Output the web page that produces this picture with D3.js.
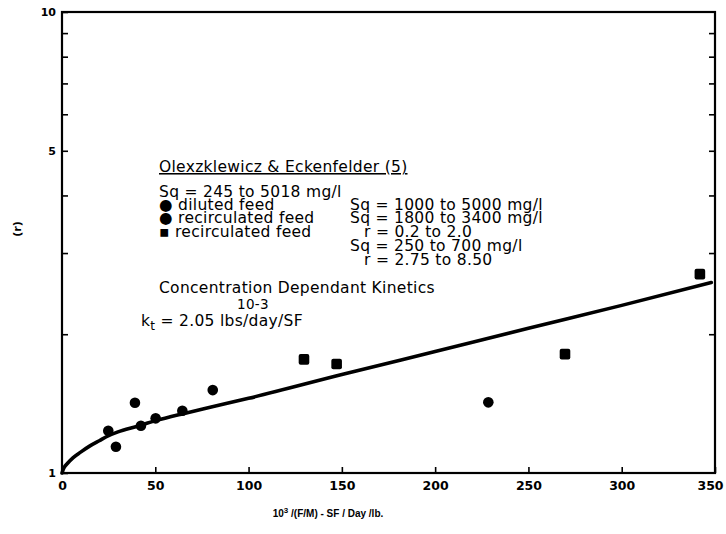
<!DOCTYPE html>
<html><head><meta charset="utf-8">
<script src="https://cdn.jsdelivr.net/npm/d3@7"></script>
<style>body{margin:0;background:#fff}</style>
</head><body>
<svg id="c" width="726" height="534"></svg>
<script>
// ---- data ----
const xTicks = [0, 50, 100, 150, 200, 250, 300, 350];
const xTickLabels = ["0", "50", "100", "150", "200", "250", "300", "350"];
const yTicks = [1, 2, 3, 4, 5, 6, 7, 8, 9, 10];
const yLabeled = [1, 5, 10];
const yTickLabels = ["1", "5", "10"];
const curveX = [0, 1, 3, 6, 10, 15, 20, 25, 30, 40, 50, 65, 80, 100, 150, 200, 250, 300, 348];
const curveY = [1, 1.025, 1.05, 1.08, 1.11, 1.145, 1.175, 1.205, 1.228, 1.262, 1.298, 1.345, 1.39, 1.452, 1.635, 1.835, 2.06, 2.31, 2.59];
const circleX = [24.8, 28.9, 39.1, 42.3, 50.2, 64.5, 80.8, 228.5];
const circleY = [1.235, 1.140, 1.420, 1.266, 1.314, 1.365, 1.513, 1.423];
const squareX = [129.7, 147.2, 269.6, 341.9];
const squareY = [1.764, 1.723, 1.811, 2.70];
const titleText = "Olexzklewicz & Eckenfelder (5)";
const leftLines = ["Sq = 245 to 5018 mg/l", "\u25CF diluted feed", "\u25CF recirculated feed", "\u25AA recirculated feed"];
const rightLines = ["Sq = 1000 to 5000 mg/l", "Sq = 1800 to 3400 mg/l", "r = 0.2 to 2.0", "Sq = 250 to 700 mg/l", "r = 2.75 to 8.50"];
const kinText = "Concentration Dependant Kinetics";
const expText = "10-3";
const ktText = ["k", "t", " = 2.05 lbs/day/SF"];
const xTitle = ["10", "3", " /(F/M) - SF / Day /lb."];
const yTitle = "(r)";

// ---- drawing ----
const svg = d3.select("#c");
const x = d3.scaleLinear().domain([0, 350]).range([62, 715]);
const y = d3.scaleLog().domain([1, 10]).range([473, 12]);

const tickFont = "'DejaVu Sans', sans-serif";
// bottom axis
const gx = svg.append("g").attr("transform", "translate(0,473)")
  .call(d3.axisBottom(x).tickValues(xTicks).tickSize(-6).tickPadding(8)
    .tickFormat((d, i) => xTickLabels[i]));
gx.select(".domain").remove();
gx.selectAll("line").attr("stroke", "#000").attr("stroke-width", 1.6);
gx.selectAll("text").attr("font-family", tickFont).attr("font-weight", "bold")
  .attr("font-size", 12.5).attr("fill", "#000")
  .attr("dx", d => d === 350 ? -5 : 0);

// left axis
const gy = svg.append("g").attr("transform", "translate(62,0)")
  .call(d3.axisLeft(y).tickValues(yTicks).tickSize(-6).tickPadding(6)
    .tickFormat(d => { const k = yLabeled.indexOf(d); return k >= 0 ? yTickLabels[k] : ""; }));
gy.select(".domain").remove();
gy.selectAll("line").attr("stroke", "#000").attr("stroke-width", 1.6);
gy.selectAll("text").attr("font-family", tickFont).attr("font-weight", "bold")
  .attr("font-size", 11).attr("fill", "#000");

// right axis ticks
const gr = svg.append("g").attr("transform", "translate(715,0)")
  .call(d3.axisRight(y).tickValues(yTicks.slice(1, -1)).tickSize(-6).tickFormat(""));
gr.select(".domain").remove();
gr.selectAll("line").attr("stroke", "#000").attr("stroke-width", 1.6);

// frame
svg.append("rect").attr("x", x(0)).attr("y", y(10))
  .attr("width", x(350) - x(0)).attr("height", y(1) - y(10))
  .attr("fill", "none").attr("stroke", "#000").attr("stroke-width", 2.2);

// curve
const pts = curveX.map((v, i) => [v, curveY[i]]);
svg.append("path").datum(pts)
  .attr("d", d3.line().x(d => x(d[0])).y(d => y(d[1])).curve(d3.curveMonotoneX))
  .attr("fill", "none").attr("stroke", "#000").attr("stroke-width", 3.6)
  .attr("stroke-linecap", "round").attr("stroke-linejoin", "round");

// points
svg.append("g").selectAll("circle").data(circleX.map((v, i) => [v, circleY[i]]))
  .join("circle").attr("cx", d => x(d[0])).attr("cy", d => y(d[1])).attr("r", 5.3).attr("fill", "#000");
svg.append("g").selectAll("rect").data(squareX.map((v, i) => [v, squareY[i]]))
  .join("rect").attr("x", d => x(d[0]) - 5.3).attr("y", d => y(d[1]) - 5.3)
  .attr("width", 10.6).attr("height", 10.6).attr("rx", 2).attr("fill", "#000");

// annotations
const noteFont = "'DejaVu Sans', sans-serif";
function note(tx, ty, s, size) {
  return svg.append("text").attr("x", tx).attr("y", ty).attr("font-family", noteFont)
    .attr("font-size", size || 15.5).attr("letter-spacing", 0.3).attr("fill", "#000").text(s);
}
note(159, 172, titleText).attr("text-decoration", "underline");
const leftY = [197, 210, 223, 237];
leftLines.forEach((s, i) => note(159, leftY[i], s));
const rightY = [210, 223, 237, 251, 265];
rightLines.forEach((s, i) => note(s.startsWith("r") ? 364 : 350, rightY[i], s));
note(159, 293, kinText);
note(237, 309, expText, 13.5);
const kt = svg.append("text").attr("x", 141).attr("y", 326).attr("font-family", noteFont)
  .attr("font-size", 15.5).attr("letter-spacing", 0.3).attr("fill", "#000");
kt.append("tspan").text(ktText[0]);
kt.append("tspan").attr("font-size", 12).attr("dy", 4).text(ktText[1]);
kt.append("tspan").attr("dy", -4).text(ktText[2]);

// axis titles
const xt = svg.append("text").attr("x", 328).attr("y", 517).attr("text-anchor", "middle")
  .attr("font-family", "'Liberation Sans', Arial, sans-serif").attr("font-weight", "bold")
  .attr("font-size", 10).attr("fill", "#000");
xt.append("tspan").text(xTitle[0]);
xt.append("tspan").attr("font-size", 8).attr("dy", -4).text(xTitle[1]);
xt.append("tspan").attr("dy", 4).text(xTitle[2]);

svg.append("text").attr("transform", "translate(21,229) rotate(-90)").attr("text-anchor", "middle")
  .attr("font-family", tickFont).attr("font-weight", "bold").attr("font-size", 11)
  .attr("fill", "#000").text(yTitle);
</script>
</body></html>
